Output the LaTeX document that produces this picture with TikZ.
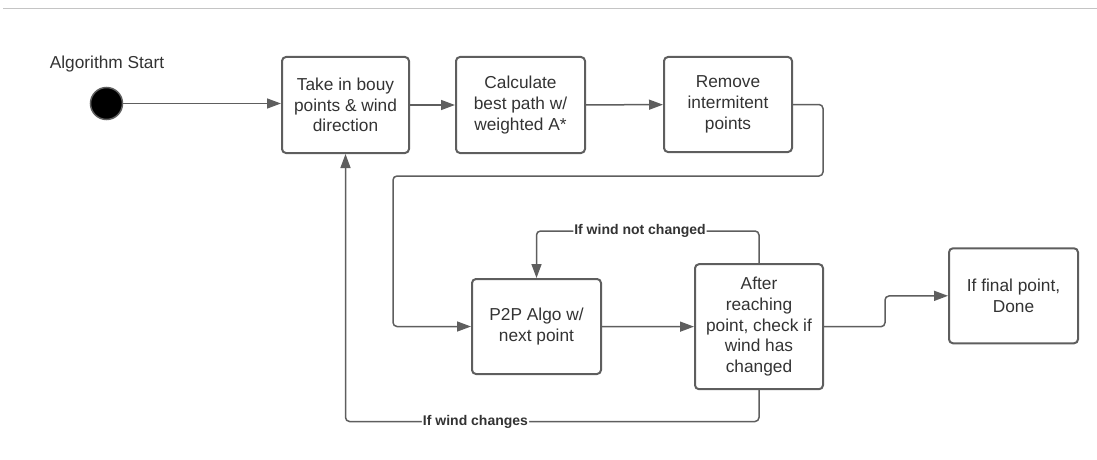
\documentclass[tikz,border=0pt]{standalone}
\usepackage{fontspec}
\setmainfont{Liberation Sans}
\usetikzlibrary{arrows.meta}
\definecolor{ink}{HTML}{333333}
\definecolor{edge}{HTML}{5E5E5E}
\definecolor{rule}{HTML}{C4C4C4}

\begin{document}
\begin{tikzpicture}[x=1pt,y=-1pt,
  every node/.style={text=ink,font=\fontsize{17.3}{20.7}\selectfont,inner sep=0pt},
  stepbox/.style={draw=edge,line width=2pt,rounded corners=4pt,align=center},
  flow/.style={-{Triangle[length=14pt,width=10pt]},draw=edge,line width=1.5pt,rounded corners=4pt},
  guard/.style={font=\bfseries\fontsize{14}{16}\selectfont,fill=white,inner xsep=1pt,inner ysep=2pt}]

\useasboundingbox (0,0) rectangle (1097,460);
\draw[rule,line width=1pt] (3,9) -- (1097,9);

% Entry point of the routine.
\node (startlabel) at (107,64.5) {Algorithm Start};
\node[circle,fill=black,draw=edge,line width=1.5pt,minimum size=32pt] (start) at (106.5,103.5) {};

% Planning stage along the top row.
\node[stepbox,minimum width=127pt,minimum height=96pt] (intake) at (345.5,105)
  {Take in bouy\\points \& wind\\direction};
\node[stepbox,minimum width=129pt,minimum height=96pt] (astar) at (520.5,105)
  {Calculate\\best path w/\\weighted A*};
\node[stepbox,minimum width=128pt,minimum height=95pt] (prune) at (728,104.5)
  {Remove\\intermitent\\points};

% Sailing stage along the bottom row.
\node[stepbox,minimum width=129pt,minimum height=95pt] (p2p) at (536.5,326.5)
  {P2P Algo w/\\next point};
\node[stepbox,minimum width=128pt,minimum height=125pt] (check) at (759,326.7)
  {After\\reaching\\point, check if\\wind has\\changed};
\node[stepbox,minimum width=129pt,minimum height=95pt] (done) at (1013.5,295.8)
  {If final point,\\Done};

\coordinate (dropA) at (823,176);
\coordinate (dropB) at (393,176);
\coordinate (jog) at (885,296);
\coordinate (keep) at (640,231);
\coordinate (back) at (475.5,421.5);

\draw[flow] (start) -- (start -| intake.west);
\draw[flow] (intake) -- (astar);
\draw[flow] (astar) -- (prune);
\draw[flow] (prune.east) -| (dropA) -- (dropB) |- (p2p.west);
\draw[flow] (p2p) -- (check);
\draw[flow] (check.east) -| (jog) -- (done.west);
% Feedback loops: replan when the wind shifts, otherwise keep going.
\draw[flow] (check.north) |- (keep) node[guard] {If wind not changed} -| (p2p.north);
\draw[flow] (check.south) |- (back) node[guard] {If wind changes} -| (intake.south);
\end{tikzpicture}
\end{document}
